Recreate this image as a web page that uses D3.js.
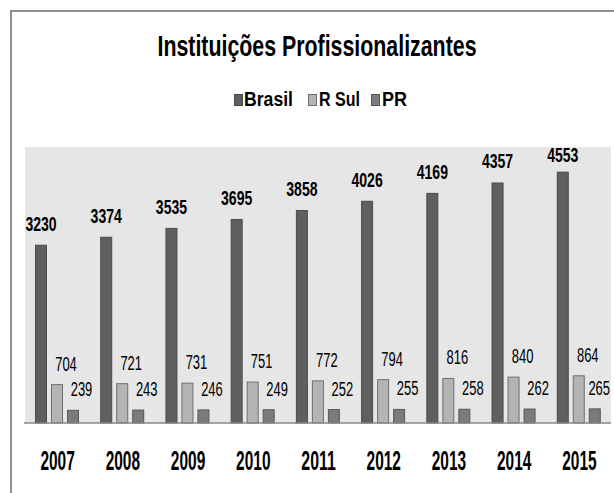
<!DOCTYPE html>
<html>
<head>
<meta charset="utf-8">
<script src="https://cdn.jsdelivr.net/npm/d3@7"></script>
<style>
  html, body { margin: 0; padding: 0; background: #fff; }
  svg { display: block; }
  text { font-family: "Liberation Sans Narrow", "Liberation Sans", Arial, sans-serif; fill: #000; }
</style>
</head>
<body>
<script>
const years = ["2007","2008","2009","2010","2011","2012","2013","2014","2015"];
const seriesNames = ["Brasil","R Sul","PR"];
const brasil = [3230,3374,3535,3695,3858,4026,4169,4357,4553];
const rSul = [704,721,731,751,772,794,816,840,864];
const pr = [239,243,246,249,252,255,258,262,265];
const title = "Instituições Profissionalizantes";

const W = 614, H = 493;
const svg = d3.select("body").append("svg").attr("width", W).attr("height", H);

const colors = {"Brasil": "#5f5f5f", "R Sul": "#b4b4b4", "PR": "#7b7b7b"};
const strokes = {"Brasil": "#4b4b4b", "R Sul": "#6f6f6f", "PR": "#585858"};
const values = {"Brasil": brasil, "R Sul": rSul, "PR": pr};

// outer border (top + left)
svg.append("line").attr("x1", 11).attr("x2", W).attr("y1", 11).attr("y2", 11)
  .attr("stroke", "#8e8e8e").attr("stroke-width", 2);
svg.append("line").attr("x1", 11).attr("x2", 11).attr("y1", 10).attr("y2", H)
  .attr("stroke", "#8e8e8e").attr("stroke-width", 2);

// plot area
const plotL = 25, plotR = 611, plotT = 147, plotB = 423;
svg.append("rect").attr("x", plotL).attr("y", plotT).attr("width", plotR - plotL).attr("height", plotB - plotT)
  .attr("fill", "#e6e6e6");

const x0 = d3.scaleBand().domain(years).range([25, 612]).paddingInner(0).paddingOuter(0);
const x1 = d3.scaleBand().domain(seriesNames).range([10, 54]).paddingInner(0.25).paddingOuter(0);
const y = d3.scaleLinear().domain([0, 5000]).range([plotB, plotT]);

// bars
const groups = svg.append("g").selectAll("g").data(years).join("g")
  .attr("transform", d => `translate(${x0(d)},0)`);

seriesNames.forEach(s => {
  groups.append("rect")
    .attr("x", x1(s) + 0.5)
    .attr("width", x1.bandwidth() - 1)
    .attr("y", (d, i) => y(values[s][i]) + 0.5)
    .attr("height", (d, i) => y(0) - y(values[s][i]) - 0.5)
    .attr("fill", colors[s])
    .attr("stroke", strokes[s])
    .attr("stroke-width", 1);
});

// baseline axis
const xAxis = d3.axisBottom(x0).tickSize(0).tickPadding(0);
const axisG = svg.append("g").attr("transform", `translate(0,${plotB})`).call(xAxis);
axisG.select(".domain").attr("d", `M${plotL - 1},0H${plotR}`).attr("stroke", "#888").attr("stroke-width", 1.6);
axisG.selectAll(".tick text")
  .attr("y", 47).attr("dy", 0)
  .style("font-size", "27px").style("font-weight", "bold")
  .style("font-family", '"Liberation Sans Narrow", "Liberation Sans", Arial, sans-serif')
  .attr("fill", "#000")
  .attr("textLength", d => d.length * 8.6)
  .attr("lengthAdjust", "spacingAndGlyphs");

// value labels
function clampRight(cx, w) { return Math.min(cx, 610 - w / 2); }

// Brasil labels (bold, above bars)
groups.append("text")
  .attr("x", x1("Brasil") + x1.bandwidth() / 2)
  .attr("y", (d, i) => Math.max(y(brasil[i]) - 14, plotT + 15))
  .attr("text-anchor", "middle")
  .style("font-size", "21px").style("font-weight", "bold")
  .attr("textLength", (d, i) => String(brasil[i]).length * 7.8)
  .attr("lengthAdjust", "spacingAndGlyphs")
  .text((d, i) => brasil[i]);

// R Sul and PR labels (regular, offset right)
[["R Sul", rSul, 9], ["PR", pr, 8.5]].forEach(([s, arr, off]) => {
  svg.append("g").selectAll("text").data(years).join("text")
    .attr("x", (d, i) => {
      const w = String(arr[i]).length * 7.2;
      return clampRight(x0(d) + x1(s) + x1.bandwidth() / 2 + off, w);
    })
    .attr("y", (d, i) => y(arr[i]) - 13.5)
    .attr("text-anchor", "middle")
    .style("font-size", "20px")
    .attr("textLength", (d, i) => String(arr[i]).length * 7.2)
    .attr("lengthAdjust", "spacingAndGlyphs")
    .text((d, i) => arr[i]);
});

// title
svg.append("text").attr("x", 317).attr("y", 56).attr("text-anchor", "middle")
  .style("font-size", "29px").style("font-weight", "bold")
  .attr("textLength", 319).attr("lengthAdjust", "spacingAndGlyphs")
  .text(title);

// legend
const legendItems = [
  {name: "Brasil", sx: 234, tx: 244, tw: 49},
  {name: "R Sul", sx: 308, tx: 319, tw: 41},
  {name: "PR", sx: 371, tx: 382, tw: 25}
];
const lg = svg.append("g");
legendItems.forEach(it => {
  lg.append("rect").attr("x", it.sx + 0.5).attr("y", 94.5).attr("width", 8).attr("height", 11)
    .attr("fill", colors[it.name]).attr("stroke", strokes[it.name]).attr("stroke-width", 1);
  lg.append("text").attr("x", it.tx).attr("y", 106)
    .style("font-size", "19.5px").style("font-weight", "bold")
    .attr("textLength", it.tw).attr("lengthAdjust", "spacingAndGlyphs")
    .text(it.name);
});
</script>
</body>
</html>
